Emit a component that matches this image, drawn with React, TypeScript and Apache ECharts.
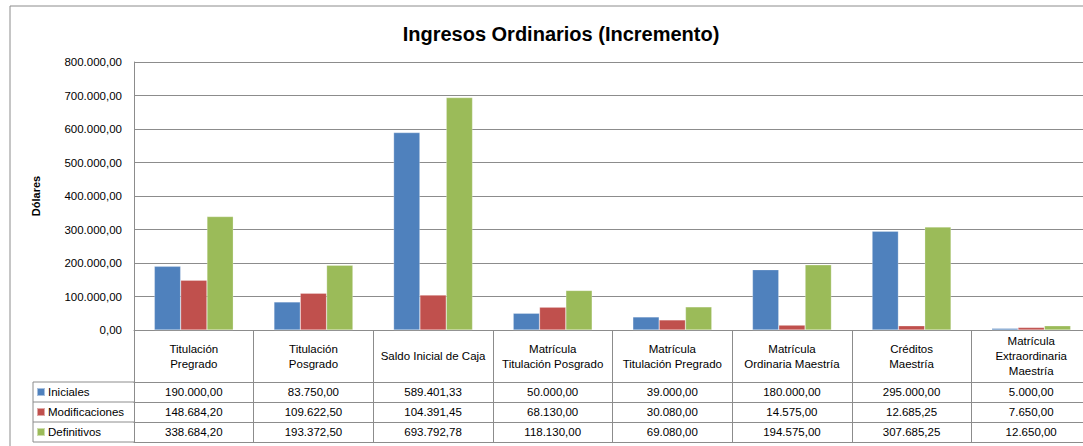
import React, { useEffect, useRef } from "react";
import * as echarts from "echarts";

const categories = [
  "Titulación\nPregrado",
  "Titulación\nPosgrado",
  "Saldo Inicial de Caja",
  "Matrícula\nTitulación Posgrado",
  "Matrícula\nTitulación Pregrado",
  "Matrícula\nOrdinaria Maestría",
  "Créditos\nMaestría",
  "Matrícula\nExtraordinaria\nMaestría",
];
const seriesNames = ["Iniciales", "Modificaciones", "Definitivos"];
const iniciales = [190000, 83750, 589401.33, 50000, 39000, 180000, 295000, 5000];
const modificaciones = [148684.2, 109622.5, 104391.45, 68130, 30080, 14575, 12685.25, 7650];
const definitivos = [338684.2, 193372.5, 693792.78, 118130, 69080, 194575, 307685.25, 12650];
const seriesValues = [iniciales, modificaciones, definitivos];
const colors = ["#4F81BD", "#C0504D", "#9BBB59"];
const yMin = 0;
const yMax = 800000;
const yInterval = 100000;

const FONT = "'Liberation Sans', Arial, sans-serif";
const GRID_LEFT = 134;
const GRID_TOP = 62;
const GRID_W = 957;
const GRID_H = 268;
const HEADER_H = 52;
const ROW_H = 20;
const LINE = "#8c8c8c";
const TABLE_FS = 11.5;

function fmt(v: number): string {
  const [intPart, dec] = v.toFixed(2).split(".");
  const withDots = intPart.replace(/\B(?=(\d{3})+(?!\d))/g, ".");
  return withDots + "," + dec;
}

export default function App() {
  const ref = useRef<HTMLDivElement>(null);
  useEffect(() => {
    if (!ref.current) return;
    const chart = echarts.init(ref.current, undefined, { renderer: "svg" });
    const tableBottom = GRID_TOP + GRID_H + HEADER_H + ROW_H * seriesValues.length;
    const xAxes: any[] = [
      {
        type: "category",
        data: categories,
        gridIndex: 0,
        position: "bottom",
        axisLine: { show: true, lineStyle: { color: LINE, width: 1 } },
        axisTick: {
          show: true,
          interval: 0,
          inside: false,
          length: HEADER_H + ROW_H * seriesValues.length,
          lineStyle: { color: LINE, width: 1 },
        },
        axisLabel: {
          interval: 0,
          margin: HEADER_H / 2,
          verticalAlign: "middle",
          lineHeight: 15,
          fontSize: TABLE_FS,
          fontFamily: FONT,
          color: "#000",
        },
      },
    ];
    seriesValues.forEach((vals, k) => {
      xAxes.push({
        type: "category",
        data: categories,
        gridIndex: 0,
        position: "bottom",
        offset: HEADER_H + ROW_H * k,
        axisLine: { show: true, lineStyle: { color: LINE, width: 1 } },
        axisTick: { show: false },
        axisLabel: {
          interval: 0,
          margin: ROW_H / 2,
          verticalAlign: "middle",
          fontSize: TABLE_FS,
          fontFamily: FONT,
          color: "#000",
          formatter: (_v: string, i: number) => fmt(vals[i]),
        },
      });
    });
    xAxes.push({
      type: "category",
      data: categories,
      gridIndex: 0,
      position: "bottom",
      offset: HEADER_H + ROW_H * seriesValues.length,
      axisLine: { show: true, lineStyle: { color: LINE, width: 1 } },
      axisTick: { show: false },
      axisLabel: { show: false },
    });

    const legendLines: any[] = [];
    for (let k = 0; k <= seriesValues.length; k++) {
      const y = GRID_TOP + GRID_H + HEADER_H + ROW_H * k;
      legendLines.push({
        type: "line",
        shape: { x1: 33, y1: y, x2: GRID_LEFT, y2: y },
        style: { stroke: LINE, lineWidth: 1 },
        silent: true,
      });
    }
    legendLines.push({
      type: "line",
      shape: { x1: 33, y1: GRID_TOP + GRID_H + HEADER_H, x2: 33, y2: tableBottom },
      style: { stroke: LINE, lineWidth: 1 },
      silent: true,
    });

    chart.setOption({
      animation: false,
      backgroundColor: "#fff",
      color: colors,
      title: {
        text: "Ingresos Ordinarios (Incremento)",
        left: 556,
        textAlign: "center",
        top: 19,
        textStyle: { fontSize: 20, fontWeight: "bold", fontFamily: FONT, color: "#000" },
      },
      legend: {
        orient: "vertical",
        left: 36,
        top: GRID_TOP + GRID_H + HEADER_H,
        padding: 0,
        itemGap: 0,
        itemWidth: 8,
        itemHeight: 8,
        icon: "rect",
        data: seriesNames,
        textStyle: { fontSize: TABLE_FS, fontFamily: FONT, color: "#000", lineHeight: ROW_H, padding: [0, 0, 0, -2] },
      },
      grid: { left: GRID_LEFT, top: GRID_TOP, width: GRID_W, height: GRID_H, containLabel: false },
      xAxis: xAxes,
      yAxis: {
        type: "value",
        min: yMin,
        max: yMax,
        interval: yInterval,
        name: "Dólares",
        nameLocation: "middle",
        nameRotate: 90,
        nameGap: 93,
        nameTextStyle: { fontSize: 11, fontWeight: "bold", fontFamily: FONT, color: "#000" },
        axisLine: { show: true, lineStyle: { color: LINE } },
        axisTick: { show: false },
        splitLine: { show: true, lineStyle: { color: LINE, width: 1 } },
        axisLabel: {
          margin: 12,
          fontSize: TABLE_FS,
          fontFamily: FONT,
          color: "#000",
          formatter: (v: number) => fmt(v),
        },
      },
      series: seriesValues.map((vals, k) => ({
        name: seriesNames[k],
        type: "bar",
        xAxisIndex: 0,
        data: vals,
        barGap: "0%",
        barCategoryGap: "34%",
        itemStyle: { color: colors[k], borderColor: "rgba(255,255,255,0.5)", borderWidth: 0.5 },
      })),
      graphic: [
        {
          type: "rect",
          shape: { x: 10, y: 6, width: 1200, height: 600 },
          style: { fill: "none", stroke: LINE, lineWidth: 1 },
          silent: true,
          z: -1,
        },
        ...legendLines,
      ],
    });
    return () => chart.dispose();
  }, []);
  return (
    <div
      style={{
        position: "fixed",
        left: 0,
        top: 0,
        width: 1083,
        height: 446,
        overflow: "hidden",
        background: "#fff",
      }}
    >
      <div ref={ref} style={{ width: 1110, height: 446 }} />
    </div>
  );
}
